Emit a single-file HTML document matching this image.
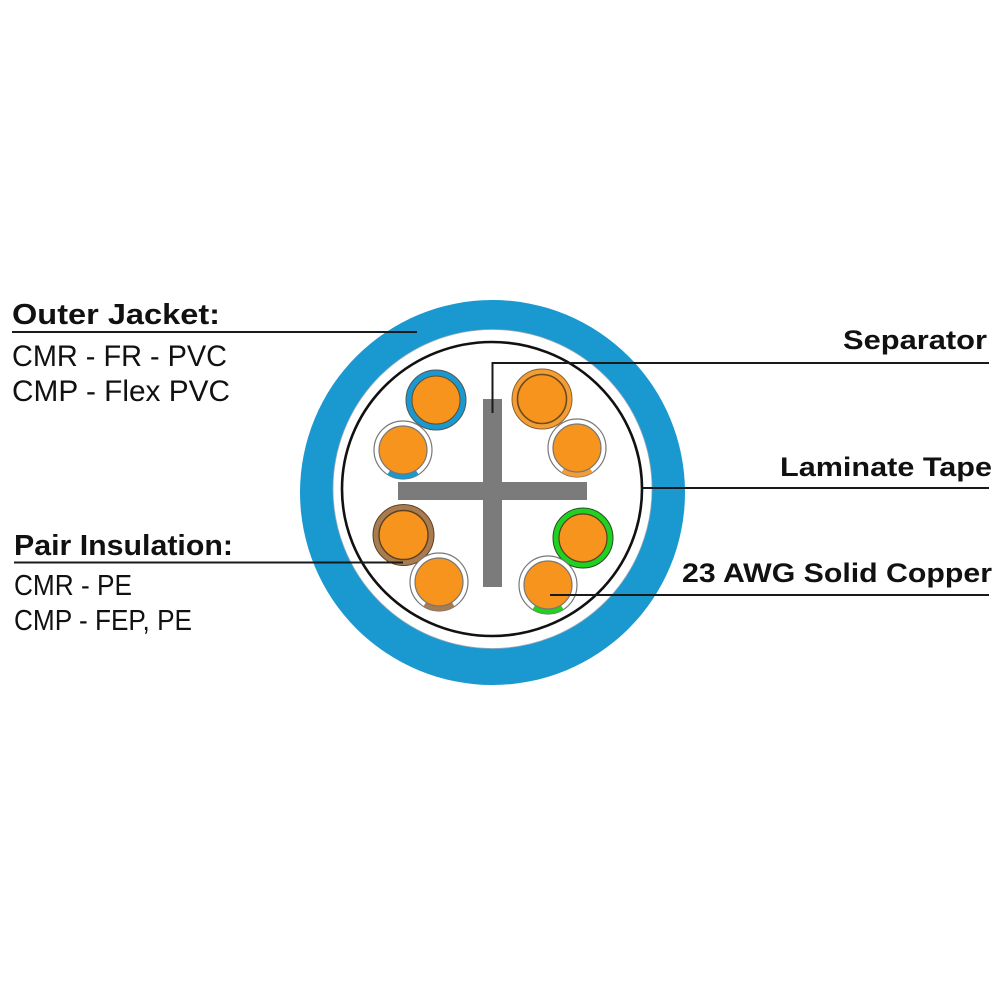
<!DOCTYPE html>
<html>
<head>
<meta charset="utf-8">
<style>
  html,body{margin:0;padding:0;background:#fff;}
  svg{display:block;}
  .b{font-family:"Liberation Sans",sans-serif;font-weight:bold;fill:#111;}
  .r{font-family:"Liberation Sans",sans-serif;fill:#111;}
</style>
</head>
<body>
<svg width="1000" height="1000" viewBox="0 0 1000 1000" xmlns="http://www.w3.org/2000/svg">
  <rect width="1000" height="1000" fill="#fff"/>

  <!-- Outer jacket -->
  <circle cx="492.5" cy="492.5" r="192.5" fill="#1a98d0"/>
  <circle cx="492.5" cy="489" r="159.5" fill="#fff" stroke="#9ab" stroke-width="0.8"/>
  <!-- Laminate tape -->
  <ellipse cx="492" cy="489" rx="150" ry="147" fill="none" stroke="#111" stroke-width="2.6"/>

  <!-- Separator cross -->
  <rect x="483" y="399" width="19" height="188" fill="#7b7b7b"/>
  <rect x="398" y="482" width="189" height="18" fill="#7b7b7b"/>

  <!-- Pair 1: blue -->
  <circle cx="436" cy="400" r="30" fill="#1a98d0" stroke="#555" stroke-width="1"/>
  <circle cx="436" cy="400" r="24" fill="#f7941d" stroke="#6a4a20" stroke-width="1"/>
  <circle cx="403" cy="450" r="29" fill="#fff" stroke="#777" stroke-width="1.2"/>
  <path d="M 417.2 472.3 A 26.5 26.5 0 0 1 388.8 472.3" fill="none" stroke="#1a98d0" stroke-width="5"/>
  <circle cx="403" cy="450" r="24" fill="#f7941d" stroke="#777" stroke-width="1.2"/>

  <!-- Pair 2: orange -->
  <circle cx="542" cy="399" r="30" fill="#f59d35" stroke="#8a6030" stroke-width="1"/>
  <circle cx="542" cy="399" r="24.5" fill="#f7941d" stroke="#6a4a20" stroke-width="1.6"/>
  <circle cx="577" cy="448" r="29" fill="#fff" stroke="#777" stroke-width="1.2"/>
  <path d="M 591.2 470.3 A 26.5 26.5 0 0 1 562.8 470.3" fill="none" stroke="#f59d35" stroke-width="5"/>
  <circle cx="577" cy="448" r="24" fill="#f7941d" stroke="#777" stroke-width="1.2"/>

  <!-- Pair 3: brown -->
  <circle cx="403.5" cy="535" r="30.5" fill="#a87c50" stroke="#5a4020" stroke-width="1"/>
  <circle cx="403.5" cy="535" r="24.5" fill="#f7941d" stroke="#5a4020" stroke-width="1.4"/>
  <circle cx="439" cy="582" r="29" fill="#fff" stroke="#777" stroke-width="1.2"/>
  <path d="M 453.2 604.3 A 26.5 26.5 0 0 1 424.8 604.3" fill="none" stroke="#a87c50" stroke-width="5"/>
  <circle cx="439" cy="582" r="24" fill="#f7941d" stroke="#777" stroke-width="1.2"/>

  <!-- Pair 4: green -->
  <circle cx="583" cy="538" r="30" fill="#1fd21f" stroke="#2a4a2a" stroke-width="1"/>
  <circle cx="583" cy="538" r="24" fill="#f7941d" stroke="#5a4020" stroke-width="1.2"/>
  <circle cx="548" cy="585" r="29" fill="#fff" stroke="#777" stroke-width="1.2"/>
  <path d="M 562.2 607.3 A 26.5 26.5 0 0 1 533.8 607.3" fill="none" stroke="#1fd21f" stroke-width="5"/>
  <circle cx="548" cy="585" r="24" fill="#f7941d" stroke="#777" stroke-width="1.2"/>

  <!-- Leader lines -->
  <g stroke="#1a1a1a" stroke-width="2" fill="none">
    <line x1="12" y1="332" x2="417" y2="332"/>
    <line x1="14" y1="562.5" x2="403" y2="562.5"/>
    <polyline points="492.5,413 492.5,363 989,363"/>
    <line x1="643" y1="488" x2="989" y2="488"/>
    <line x1="550" y1="595" x2="989" y2="595"/>
  </g>

  <!-- Left labels -->
  <text class="b" x="12" y="324" font-size="28.5" textLength="208" lengthAdjust="spacingAndGlyphs">Outer Jacket:</text>
  <text class="r" x="12" y="366" font-size="30" textLength="215" lengthAdjust="spacingAndGlyphs">CMR - FR - PVC</text>
  <text class="r" x="12" y="401" font-size="30" textLength="218" lengthAdjust="spacingAndGlyphs">CMP - Flex PVC</text>

  <text class="b" x="14" y="555" font-size="28.5" textLength="219" lengthAdjust="spacingAndGlyphs">Pair Insulation:</text>
  <text class="r" x="14" y="595" font-size="29" textLength="118" lengthAdjust="spacingAndGlyphs">CMR - PE</text>
  <text class="r" x="14" y="630" font-size="29" textLength="178" lengthAdjust="spacingAndGlyphs">CMP - FEP, PE</text>

  <!-- Right labels -->
  <text class="b" x="843" y="349" font-size="27" textLength="144" lengthAdjust="spacingAndGlyphs">Separator</text>
  <text class="b" x="780" y="476" font-size="27" textLength="212" lengthAdjust="spacingAndGlyphs">Laminate Tape</text>
  <text class="b" x="682" y="582" font-size="27" textLength="310" lengthAdjust="spacingAndGlyphs">23 AWG Solid Copper</text>
</svg>
</body>
</html>
